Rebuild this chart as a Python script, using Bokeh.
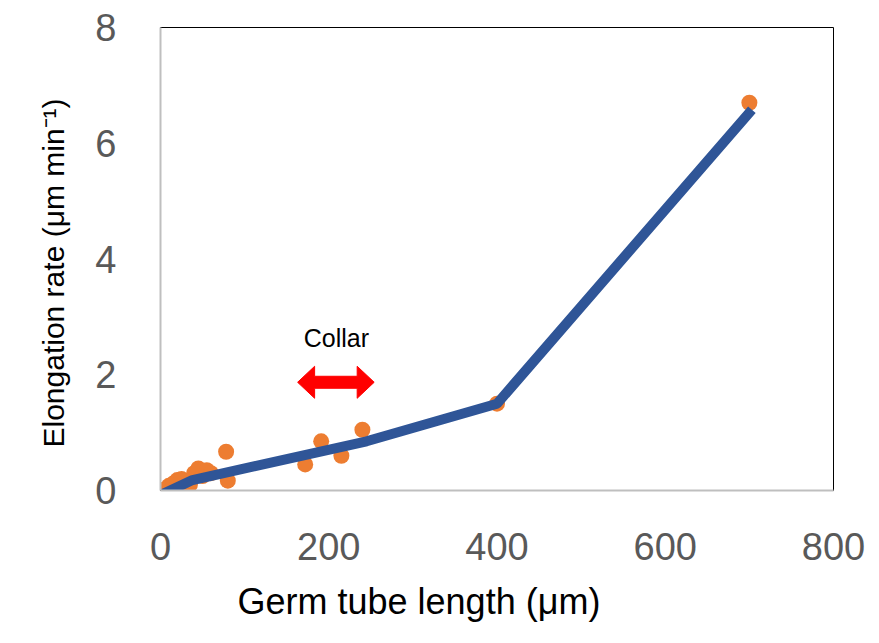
from bokeh.plotting import figure
from bokeh.models import Range1d, FixedTicker, Label, Title
from bokeh.embed import file_html
from bokeh.resources import INLINE

# measured data points (germ tube length µm, elongation rate µm/min)
pts_x = [5, 10, 15, 20, 25, 30, 35, 40, 45, 50, 55, 60, 78, 80, 172, 191, 215, 240, 400, 700]
pts_y = [0.02, 0.08, 0.12, 0.18, 0.2, 0.05, 0.1, 0.3, 0.38, 0.25, 0.35, 0.3, 0.67, 0.17, 0.45, 0.85, 0.6, 1.05, 1.5, 6.7]

# fitted piecewise line
fit_x = [0, 38, 245, 400, 703]
fit_y = [-0.08, 0.18, 0.85, 1.5, 6.58]

x_ticks = [0, 200, 400, 600, 800]
y_ticks = [0, 2, 4, 6, 8]

collar_start, collar_end, collar_y = 163, 254, 1.87
collar_label_x, collar_label_y = 209, 2.63

W, H = 879, 643
ML, MR, MT, MB = 160, 46, 27, 153
X0, X1, Y0, Y1 = 0, 800, 0, 8

p = figure(width=W, height=H, output_backend="svg", toolbar_location=None,
           x_range=Range1d(X0, X1), y_range=Range1d(Y0, Y1),
           min_border_left=ML, min_border_right=MR, min_border_top=MT, min_border_bottom=MB)

p.outline_line_color = "black"
p.outline_line_width = 1
p.xgrid.visible = False
p.ygrid.visible = False

font = "Liberation Sans"
for ax in (p.xaxis[0], p.yaxis[0]):
    ax.axis_line_color = "#bfbfbf"
    ax.axis_line_width = 2
    ax.major_tick_line_color = None
    ax.minor_tick_line_color = None
    ax.major_label_text_font = font
    ax.major_label_text_font_size = "38px"
    ax.major_label_text_color = "#595959"

p.xaxis.ticker = FixedTicker(ticks=x_ticks)
p.yaxis.ticker = FixedTicker(ticks=y_ticks)
p.xaxis.major_label_standoff = 36
p.yaxis.major_label_standoff = 38

p.add_layout(Title(text="Germ tube length (μm)", align="left", offset=77, vertical_align="top",
                   text_font=font, text_font_size="36px", text_font_style="normal",
                   text_color="black", standoff=36), "below")
p.add_layout(Title(text="Elongation rate (μm min⁻¹)", align="left", offset=43,
                   text_font=font, text_font_size="30px", text_font_style="normal",
                   text_color="black", standoff=46), "left")

p.scatter(pts_x, pts_y, size=16, color="#ED7D31", line_color=None)
p.line(fit_x, fit_y, line_width=10, color="#2F5597")

# block double arrow for the collar region (pixel sizes converted to data units)
frame_w = W - ML - MR
frame_h = H - MT - MB
ux = (X1 - X0) / frame_w
uy = (Y1 - Y0) / frame_h
head_len = 17 * ux
head_half = 16 * uy
shaft_half = 6 * uy
ax_ = [collar_start, collar_start + head_len, collar_start + head_len, collar_end - head_len,
       collar_end - head_len, collar_end, collar_end - head_len, collar_end - head_len,
       collar_start + head_len, collar_start + head_len]
ay_ = [collar_y, collar_y + head_half, collar_y + shaft_half, collar_y + shaft_half,
       collar_y + head_half, collar_y, collar_y - head_half, collar_y - shaft_half,
       collar_y - shaft_half, collar_y - head_half]
p.patch(ax_, ay_, fill_color="red", line_color="red", line_width=1)

p.add_layout(Label(x=collar_label_x, y=collar_label_y, text="Collar", text_font=font,
                   text_font_size="25px", text_align="center", text_baseline="middle",
                   text_color="black"))

open("out.html", "w").write(file_html(p, INLINE))
